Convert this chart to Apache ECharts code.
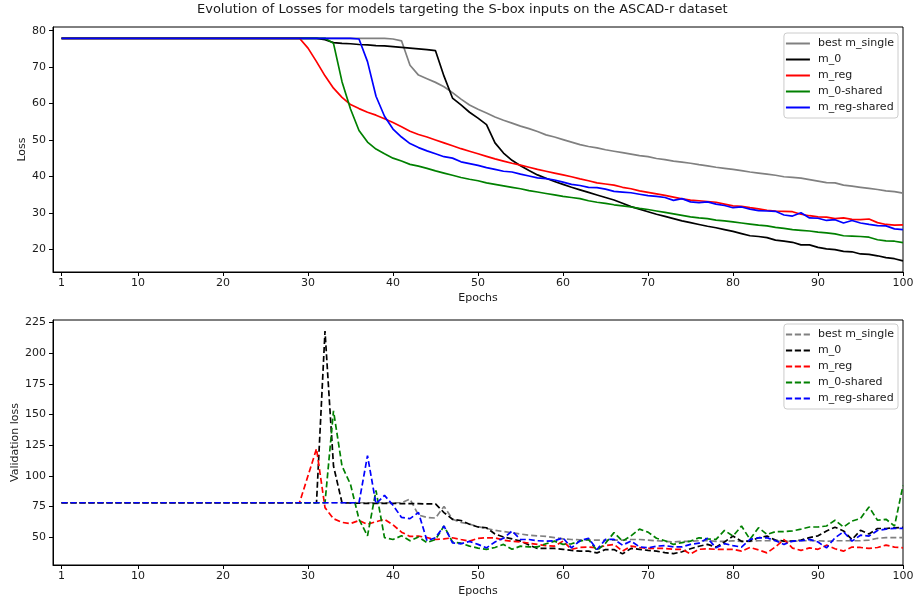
<!DOCTYPE html>
<html>
<head>
<meta charset="utf-8">
<script src="https://cdn.jsdelivr.net/npm/echarts@6/dist/echarts.min.js"></script>
<style>
  html, body { margin: 0; padding: 0; background: #ffffff; }
  #chart { width: 914px; height: 603px; }
</style>
</head>
<body>
<div id="chart"></div>
<script>
// Epoch index shared by every curve
const epochs = [
  1, 2, 3, 4, 5, 6, 7, 8, 9, 10,
  11, 12, 13, 14, 15, 16, 17, 18, 19, 20,
  21, 22, 23, 24, 25, 26, 27, 28, 29, 30,
  31, 32, 33, 34, 35, 36, 37, 38, 39, 40,
  41, 42, 43, 44, 45, 46, 47, 48, 49, 50,
  51, 52, 53, 54, 55, 56, 57, 58, 59, 60,
  61, 62, 63, 64, 65, 66, 67, 68, 69, 70,
  71, 72, 73, 74, 75, 76, 77, 78, 79, 80,
  81, 82, 83, 84, 85, 86, 87, 88, 89, 90,
  91, 92, 93, 94, 95, 96, 97, 98, 99, 100
];

const modelNames = ['best m_single', 'm_0', 'm_reg', 'm_0-shared', 'm_reg-shared'];
const modelColors = ['#808080', '#000000', '#ff0000', '#008000', '#0000ff'];

const xTicks = [1, 10, 20, 30, 40, 50, 60, 70, 80, 90, 100];
const lossTicks = [20, 30, 40, 50, 60, 70, 80];
const valTicks = [50, 75, 100, 125, 150, 175, 200, 225];

// ---- Training loss ----
const trainBestSingle = [
  77.9, 77.9, 77.9, 77.9, 77.9, 77.9, 77.9, 77.9, 77.9, 77.9,
  77.9, 77.9, 77.9, 77.9, 77.9, 77.9, 77.9, 77.9, 77.9, 77.9,
  77.9, 77.9, 77.9, 77.9, 77.9, 77.9, 77.9, 77.9, 77.9, 77.9,
  77.9, 77.9, 77.9, 77.9, 77.9, 77.9, 77.9, 77.9, 77.9, 77.7,
  77.2, 70.5, 67.8, 66.8, 65.8, 64.6, 63.0, 61.2, 59.6, 58.4,
  57.4, 56.3, 55.4, 54.6, 53.8, 53.1, 52.3, 51.4, 50.8, 50.1,
  49.4, 48.7, 48.2, 47.8, 47.3, 46.9, 46.5, 46.1, 45.7, 45.4,
  44.9, 44.6, 44.2, 43.9, 43.6, 43.2, 42.9, 42.5, 42.2, 41.9,
  41.6, 41.2, 40.9, 40.6, 40.3, 39.9, 39.7, 39.5, 39.1, 38.7,
  38.3, 38.2, 37.6, 37.3, 37.0, 36.7, 36.4, 36.0, 35.8, 35.4
];
const trainM0 = [
  77.9, 77.9, 77.9, 77.9, 77.9, 77.9, 77.9, 77.9, 77.9, 77.9,
  77.9, 77.9, 77.9, 77.9, 77.9, 77.9, 77.9, 77.9, 77.9, 77.9,
  77.9, 77.9, 77.9, 77.9, 77.9, 77.9, 77.9, 77.9, 77.9, 77.9,
  77.9, 77.5, 76.7, 76.5, 76.4, 76.2, 76.1, 75.9, 75.8, 75.6,
  75.4, 75.2, 75.0, 74.8, 74.5, 67.5, 61.5, 59.6, 57.6, 56.0,
  54.2, 49.2, 46.4, 44.4, 42.9, 41.6, 40.4, 39.5, 38.6, 37.8,
  37.0, 36.3, 35.6, 34.9, 34.2, 33.5, 32.6, 31.7, 31.0, 30.3,
  29.6, 29.0, 28.4, 27.8, 27.3, 26.8, 26.3, 25.9, 25.4, 24.9,
  24.3, 23.7, 23.5, 23.2, 22.5, 22.2, 21.9, 21.2, 21.2, 20.5,
  20.1, 19.9, 19.4, 19.3, 18.7, 18.6, 18.2, 17.7, 17.4, 16.8
];
const trainReg = [
  77.9, 77.9, 77.9, 77.9, 77.9, 77.9, 77.9, 77.9, 77.9, 77.9,
  77.9, 77.9, 77.9, 77.9, 77.9, 77.9, 77.9, 77.9, 77.9, 77.9,
  77.9, 77.9, 77.9, 77.9, 77.9, 77.9, 77.9, 77.9, 77.9, 75.2,
  71.5, 67.6, 64.2, 61.7, 59.7, 58.6, 57.6, 56.8, 55.8, 54.8,
  53.6, 52.4, 51.5, 50.8, 50.0, 49.2, 48.4, 47.6, 46.9, 46.2,
  45.5, 44.8, 44.2, 43.6, 43.1, 42.5, 41.9, 41.4, 40.9, 40.4,
  39.9, 39.3, 38.8, 38.2, 37.9, 37.6, 37.0, 36.6, 36.0, 35.6,
  35.2, 34.8, 34.3, 33.8, 33.5, 33.3, 33.1, 32.9, 32.4, 31.9,
  31.8, 31.4, 31.1, 30.7, 30.5, 30.4, 30.3, 29.6, 29.2, 28.9,
  28.8, 28.4, 28.6, 28.2, 28.1, 28.3, 27.3, 26.8, 26.6, 26.7
];
const trainShared0 = [
  77.9, 77.9, 77.9, 77.9, 77.9, 77.9, 77.9, 77.9, 77.9, 77.9,
  77.9, 77.9, 77.9, 77.9, 77.9, 77.9, 77.9, 77.9, 77.9, 77.9,
  77.9, 77.9, 77.9, 77.9, 77.9, 77.9, 77.9, 77.9, 77.9, 77.9,
  77.9, 77.9, 76.5, 66.0, 58.5, 52.6, 49.4, 47.5, 46.2, 45.0,
  44.2, 43.3, 42.8, 42.2, 41.5, 40.9, 40.3, 39.7, 39.2, 38.8,
  38.2, 37.8, 37.4, 37.0, 36.6, 36.1, 35.7, 35.3, 34.9, 34.5,
  34.2, 33.9, 33.3, 32.9, 32.6, 32.2, 31.9, 31.6, 31.2, 30.9,
  30.5, 30.1, 29.7, 29.3, 28.9, 28.6, 28.4, 28.0, 27.8, 27.5,
  27.2, 26.9, 26.6, 26.4, 26.0, 25.7, 25.4, 25.2, 25.0, 24.7,
  24.5, 24.2, 23.7, 23.6, 23.5, 23.3, 22.6, 22.3, 22.2, 21.8
];
const trainSharedReg = [
  77.9, 77.9, 77.9, 77.9, 77.9, 77.9, 77.9, 77.9, 77.9, 77.9,
  77.9, 77.9, 77.9, 77.9, 77.9, 77.9, 77.9, 77.9, 77.9, 77.9,
  77.9, 77.9, 77.9, 77.9, 77.9, 77.9, 77.9, 77.9, 77.9, 77.9,
  77.9, 77.9, 77.9, 77.9, 77.9, 77.7, 71.5, 62.0, 56.5, 53.0,
  50.8, 49.0, 47.9, 47.0, 46.2, 45.4, 45.0, 44.0, 43.5, 43.0,
  42.4, 41.9, 41.4, 41.2, 40.6, 40.1, 39.6, 39.4, 39.0, 38.4,
  37.8, 37.5, 37.0, 36.9, 36.5, 35.9, 35.7, 35.5, 35.1, 34.7,
  34.5, 34.2, 33.4, 33.9, 33.0, 32.8, 33.0, 32.4, 32.0, 31.4,
  31.6, 31.0, 30.6, 30.5, 30.4, 29.4, 29.1, 30.0, 28.6, 28.5,
  27.9, 28.1, 27.2, 27.9, 27.2, 26.8, 26.5, 26.4, 25.6, 25.4
];

// ---- Validation loss ----
const valBestSingle = [
  78, 78, 78, 78, 78, 78, 78, 78, 78, 78,
  78, 78, 78, 78, 78, 78, 78, 78, 78, 78,
  78, 78, 78, 78, 78, 78, 78, 78, 78, 78,
  78, 78, 78, 78, 78, 78, 78, 78, 78, 78,
  78, 81, 68, 66, 65.5, 75, 64.5, 62, 60.5, 58.5,
  57, 55.5, 54.5, 53.5, 52.5, 51.5, 51, 50.5, 49.5, 48.5,
  48, 47.8, 47.5, 47.5, 47.3, 47.5, 47.5, 48, 48, 47.5,
  47, 46.5, 46, 46.5, 46.5, 47, 47, 46.5, 46.5, 47,
  46.5, 46.5, 47, 47, 47, 46.5, 46.5, 47, 47, 47,
  46.5, 47, 47, 47, 47, 47.5, 49, 49.5, 49.5, 49.5
];
const valM0 = [
  78, 78, 78, 78, 78, 78, 78, 78, 78, 78,
  78, 78, 78, 78, 78, 78, 78, 78, 78, 78,
  78, 78, 78, 78, 78, 78, 78, 78, 78, 78,
  78, 218, 108, 78, 77.8, 77.6, 77.5, 77.5, 77.4, 77.4,
  77.3, 77.2, 77.2, 77, 77, 70, 64.5, 63.5, 60.5, 58.2,
  57.6, 52.5, 50, 48.5, 46.7, 43.5, 40.7, 40.7, 40.7, 40,
  39.1, 38.5, 38.5, 37.1, 39.8, 39.8, 36.3, 40.7, 40, 39.1,
  38.5, 37.3, 36.5, 38, 40.5, 42.5, 44, 41.8, 46, 50.8,
  46.5, 46.7, 49.4, 50.8, 47.5, 46.7, 46.7, 47.5, 49.5, 51,
  55, 58, 55, 48, 55.5, 52.5, 57, 57, 57.5, 58
];
const valReg = [
  78, 78, 78, 78, 78, 78, 78, 78, 78, 78,
  78, 78, 78, 78, 78, 78, 78, 78, 78, 78,
  78, 78, 78, 78, 78, 78, 78, 78, 78, 100,
  122, 74, 65, 62, 61, 63.5, 60.4, 62.5, 64.5, 60,
  54, 50.5, 50.8, 49.5, 48, 48.5, 49.4, 48, 46.7, 49,
  49.4, 49.4, 47.5, 46.5, 46, 45, 44, 43, 42.6, 46.7,
  40, 41.5, 41.8, 41.2, 43, 44, 38.5, 42.6, 41.5, 40.7,
  40.7, 40.7, 40, 40, 36.3, 40, 40.5, 40, 40, 40,
  38.5, 41.5, 39.5, 37.1, 42, 48, 41, 39.1, 41.2, 40,
  43.4, 40.5, 38.5, 41.8, 41.5, 40.7, 41.5, 43.4, 41.8, 41.2
];
const valShared0 = [
  78, 78, 78, 78, 78, 78, 78, 78, 78, 78,
  78, 78, 78, 78, 78, 78, 78, 78, 78, 78,
  78, 78, 78, 78, 78, 78, 78, 78, 78, 78,
  78, 78, 153, 108, 93, 64.5, 51, 88, 49.5, 48,
  51, 47, 50, 45.5, 48, 59, 46, 45, 42.6, 41,
  40, 41.5, 44, 40, 42.6, 42, 42, 44.5, 46.7, 44,
  44.5, 46.7, 48, 39, 45, 53.6, 46.7, 51, 56.5, 54,
  49, 47, 44, 45.5, 46.7, 49.4, 48.5, 48.1, 55.4, 50.8,
  59, 48.1, 57.6, 52.2, 54.4, 54.5, 55, 56.5, 58.2, 58.2,
  59, 63.7, 58.2, 63.1, 65.2, 74.6, 63.7, 64.5, 59, 92
];
const valSharedReg = [
  78, 78, 78, 78, 78, 78, 78, 78, 78, 78,
  78, 78, 78, 78, 78, 78, 78, 78, 78, 78,
  78, 78, 78, 78, 78, 78, 78, 78, 78, 78,
  78, 78, 78, 78, 78, 78, 116.5, 77, 84, 76,
  66, 65, 70, 47, 49.5, 59, 45.3, 44.5, 46.5, 44,
  41.2, 46, 49, 54.9, 48, 48, 47, 46.7, 47, 49.4,
  41.2, 47, 49, 39.8, 48.1, 48.1, 43.4, 46.7, 42, 41.2,
  42.6, 43, 42, 42, 44, 45, 49, 41.2, 44.6, 43,
  41.8, 48.1, 49.4, 49.4, 47, 44, 46.7, 47, 48.1, 46,
  41.2, 49.4, 54.3, 46.7, 51.5, 50.8, 55.4, 56.5, 57.1, 57.1
];

const trainSets = [trainBestSingle, trainM0, trainReg, trainShared0, trainSharedReg];
const valSets = [valBestSingle, valM0, valReg, valShared0, valSharedReg];
const VAL_SUFFIX = ' (validation)';

const FONT = 'DejaVu Sans';
const TEXT = '#1a1a1a';

// legend keys: a plain stroke for training curves, three dashes for validation curves
const SOLID_KEY = 'rect';
const DASHED_KEY = 'path://M0,0h7v2h-7z M10,0h7v2h-7z M20,0h7v2h-7z';

function pairs(values) {
  return epochs.map((e, i) => [e, values[i]]);
}

function makeXAxis(gridIndex) {
  return {
    type: 'value', gridIndex, min: 0, max: 100,
    name: 'Epochs', nameLocation: 'middle', nameGap: 21, nameMoveOverlap: false,
    nameTextStyle: { fontFamily: FONT, fontSize: 11, color: TEXT },
    axisLine: { show: true, lineStyle: { color: '#000', width: 1 } },
    axisTick: { show: true, length: 4, customValues: xTicks, lineStyle: { color: '#000' } },
    axisLabel: { customValues: xTicks, margin: 6, fontFamily: FONT, fontSize: 11, color: TEXT },
    splitLine: { show: false }
  };
}

function makeYAxis(gridIndex, name, min, max, ticks, gap) {
  return {
    type: 'value', gridIndex, min, max, name,
    nameLocation: 'middle', nameGap: gap, nameRotate: 90, nameMoveOverlap: false,
    nameTextStyle: { fontFamily: FONT, fontSize: 11, color: TEXT },
    axisLine: { show: true, lineStyle: { color: '#000', width: 1 } },
    axisTick: { show: true, length: 4, customValues: ticks, lineStyle: { color: '#000' } },
    axisLabel: { customValues: ticks, margin: 7, fontFamily: FONT, fontSize: 11, color: TEXT },
    splitLine: { show: false }
  };
}

function makeLegend(names, labels, icon, top) {
  return {
    data: names.map(n => ({ name: n, icon })),
    orient: 'vertical', right: 16, top,
    itemWidth: 24, itemHeight: 2, itemGap: 3,
    padding: [4, 4, 4, 2],
    borderColor: '#cccccc', borderWidth: 1, borderRadius: 3,
    backgroundColor: 'rgba(255,255,255,0.8)',
    textStyle: { fontFamily: FONT, fontSize: 11, color: TEXT, padding: [0, 0, 0, 3], lineHeight: 13 },
    formatter: n => labels[names.indexOf(n)]
  };
}

const series = [];
modelNames.forEach((n, i) => {
  series.push({
    name: n, type: 'line', xAxisIndex: 0, yAxisIndex: 0,
    data: pairs(trainSets[i]), symbol: 'none', z: 2 + i,
    lineStyle: { color: modelColors[i], width: 1.7 },
    itemStyle: { color: modelColors[i] }
  });
});
modelNames.forEach((n, i) => {
  series.push({
    name: n + VAL_SUFFIX, type: 'line', xAxisIndex: 1, yAxisIndex: 1,
    data: pairs(valSets[i]), symbol: 'none', z: 2 + i,
    lineStyle: { color: modelColors[i], width: 1.7, type: [6, 3] },
    itemStyle: { color: modelColors[i] }
  });
});

const chart = echarts.init(document.getElementById('chart'), null, { renderer: 'canvas' });
chart.setOption({
  animation: false,
  backgroundColor: '#ffffff',
  title: {
    text: 'Evolution of Losses for models targeting the S-box inputs on the ASCAD-r dataset',
    left: 192, top: -2,
    textStyle: { fontFamily: FONT, fontSize: 13, fontWeight: 'normal', color: TEXT }
  },
  grid: [
    { left: 53, top: 27, width: 850, height: 245, show: true, borderColor: '#000', borderWidth: 1, outerBoundsMode: 'none' },
    { left: 53, top: 320, width: 850, height: 245, show: true, borderColor: '#000', borderWidth: 1, outerBoundsMode: 'none' }
  ],
  xAxis: [makeXAxis(0), makeXAxis(1)],
  yAxis: [
    makeYAxis(0, 'Loss', 13.75, 81.0, lossTicks, 25),
    makeYAxis(1, 'Validation loss', 27.2, 227.1, valTicks, 32)
  ],
  legend: [
    makeLegend(modelNames, modelNames, SOLID_KEY, 33),
    makeLegend(modelNames.map(n => n + VAL_SUFFIX), modelNames, DASHED_KEY, 324)
  ],
  series
});
</script>
</body>
</html>
